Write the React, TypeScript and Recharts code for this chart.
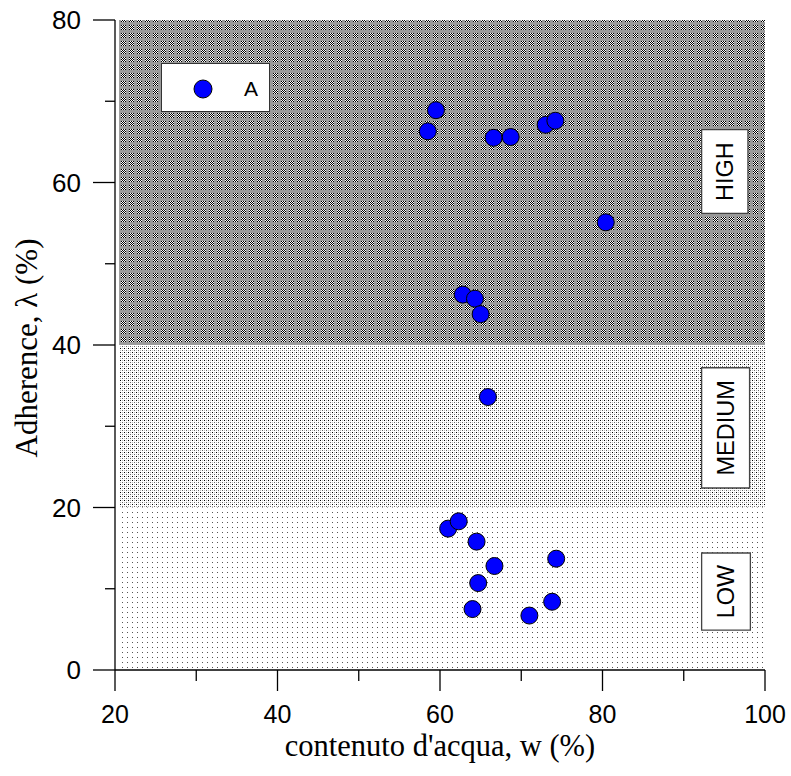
import React from 'react';
import { ScatterChart, Scatter, XAxis, YAxis, ReferenceArea } from 'recharts';

// water content w (%) vs adherence λ (%)
const waterContent = [58.5, 59.5, 66.6, 68.7, 73.0, 74.2, 80.4, 62.8, 64.3, 65.0, 65.9, 61.0, 62.3, 64.5, 66.7, 64.7, 64.0, 71.0, 74.3, 73.8];
const adherence = [66.3, 68.9, 65.5, 65.6, 67.1, 67.6, 55.1, 46.2, 45.7, 43.8, 33.6, 17.4, 18.3, 15.8, 12.8, 10.7, 7.5, 6.7, 13.7, 8.4];

const xTicks = [20, 30, 40, 50, 60, 70, 80, 90, 100];
const yTicks = [0, 10, 20, 30, 40, 50, 60, 70, 80];

const points = waterContent.map((w, i) => ({ w, lambda: adherence[i] }));

const TICK_FONT = "'Liberation Sans', Arial, sans-serif";
const TITLE_FONT = "'Liberation Serif', 'Times New Roman', serif";

// checker blob used by the dark pattern
const checker = (ox: number, oy: number, n: number) => {
  const cells = [];
  for (let i = 0; i < n; i++) {
    for (let j = 0; j < n; j++) {
      cells.push(
        <rect key={`${ox}-${oy}-${i}-${j}`} x={ox + i} y={oy + j} width={1} height={1} fill={(i + j) % 2 === 0 ? '#000' : '#fff'} />
      );
    }
  }
  return cells;
};

const XTick = (props: any) => {
  const { x, y, payload } = props;
  const major = payload.value % 20 === 0;
  return (
    <g>
      <line x1={x} x2={x} y1={y} y2={y + (major ? 21 : 11)} stroke="#000" strokeWidth={1.3} />
      {major && (
        <text x={x} y={y + 53} textAnchor="middle" fontFamily={TICK_FONT} fontSize={25} fill="#000">
          {payload.value}
        </text>
      )}
    </g>
  );
};

const YTick = (props: any) => {
  const { x, y, payload } = props;
  const major = payload.value % 20 === 0;
  return (
    <g>
      <line x1={x - (major ? 22 : 10)} x2={x} y1={y} y2={y} stroke="#000" strokeWidth={1.3} />
      {major && (
        <text x={x - 34} y={y + 9.3} textAnchor="end" fontFamily={TICK_FONT} fontSize={26} fill="#000">
          {payload.value}
        </text>
      )}
    </g>
  );
};

const ZoneLabel = (text: string) => (props: any) => {
  const { x, y, width, height } = props.viewBox;
  const cx = x + width / 2;
  const cy = y + height / 2;
  return (
    <text
      x={cx}
      y={cy}
      transform={`rotate(-90 ${cx} ${cy})`}
      textAnchor="middle"
      dominantBaseline="central"
      fontFamily={TICK_FONT}
      fontSize={23.5}
      fill="#000"
    >
      {text}
    </text>
  );
};

const Dot = (props: any) => (
  <circle cx={props.cx} cy={props.cy} r={8.5} fill="#0000ff" stroke="#000" strokeWidth={1} />
);

export default function App() {
  return (
    <div style={{ position: 'absolute', left: 0, top: 0, width: 791, height: 776, background: '#fff' }}>
      <ScatterChart width={791} height={776} margin={{ top: 20, right: 26, bottom: 0, left: 0 }}>
        <defs>
          <pattern id="high" width={8} height={8} patternUnits="userSpaceOnUse">
            <rect width={8} height={8} fill="#9a9a9a" />
            {checker(1, 1, 5)}
          </pattern>
          <pattern id="medium" width={4} height={4} patternUnits="userSpaceOnUse">
            <rect width={4} height={4} fill="#fff" />
            <rect x={0} y={0} width={1} height={1} fill="#000" />
            <rect x={2} y={2} width={1} height={1} fill="#666" />
            <rect x={2} y={0} width={1} height={1} fill="#bbb" />
            <rect x={0} y={2} width={1} height={1} fill="#bbb" />
          </pattern>
          <pattern id="low" width={5} height={5} patternUnits="userSpaceOnUse">
            <rect width={5} height={5} fill="#fff" />
            <rect x={2} y={2} width={1} height={1} fill="#555" />
          </pattern>
        </defs>
        <XAxis
          type="number"
          dataKey="w"
          domain={[20, 100]}
          ticks={xTicks}
          interval={0}
          height={106}
          tickSize={0}
          tickMargin={0}
          tickLine={false}
          tick={<XTick />}
          axisLine={{ stroke: '#000', strokeWidth: 1.3 }}
          label={{
            content: (p: any) => (
              <text
                x={p.viewBox.x + p.viewBox.width / 2}
                y={p.viewBox.y + 86}
                textAnchor="middle"
                fontFamily={TITLE_FONT}
                fontSize={30.5}
                fill="#000"
              >
                contenuto d'acqua, w (%)
              </text>
            ),
          }}
        />
        <YAxis
          type="number"
          dataKey="lambda"
          domain={[0, 80]}
          ticks={yTicks}
          interval={0}
          width={115}
          tickSize={0}
          tickMargin={0}
          tickLine={false}
          tick={<YTick />}
          axisLine={{ stroke: '#000', strokeWidth: 1.3 }}
          label={{
            content: (p: any) => {
              const cx = p.viewBox.x + 37;
              const cy = p.viewBox.y + p.viewBox.height / 2 + 3;
              return (
                <text
                  x={cx}
                  y={cy}
                  transform={`rotate(-90 ${cx} ${cy})`}
                  textAnchor="middle"
                  fontFamily={TITLE_FONT}
                  fontSize={31}
                  fill="#000"
                >
                  Adherence, λ (%)
                </text>
              );
            },
          }}
        />
        <ReferenceArea x1={20.5} x2={100} y1={40} y2={80} fill="url(#high)" fillOpacity={1} stroke="none" />
        <ReferenceArea x1={20.5} x2={100} y1={20} y2={40} fill="url(#medium)" fillOpacity={1} stroke="none" />
        <ReferenceArea x1={20.5} x2={100} y1={0} y2={20} fill="url(#low)" fillOpacity={1} stroke="none" />
        <ReferenceArea x1={92.2} x2={97.9} y1={56.2} y2={66.5} fill="#fff" fillOpacity={1} stroke="#444" strokeWidth={1.3} label={ZoneLabel('HIGH')} />
        <ReferenceArea x1={92.2} x2={98.1} y1={22.4} y2={37.2} fill="#fff" fillOpacity={1} stroke="#444" strokeWidth={1.3} label={ZoneLabel('MEDIUM')} />
        <ReferenceArea x1={92.2} x2={98.2} y1={4.9} y2={14.4} fill="#fff" fillOpacity={1} stroke="#444" strokeWidth={1.3} label={ZoneLabel('LOW')} />
        <Scatter name="A" data={points} shape={<Dot />} isAnimationActive={false} />
      </ScatterChart>
      <div
        style={{
          position: 'absolute',
          left: 161,
          top: 63,
          width: 107,
          height: 47,
          background: '#fff',
          border: '1.3px solid #333',
          boxSizing: 'content-box',
        }}
      >
        <svg width={107} height={47} style={{ position: 'absolute', left: 0, top: 0 }}>
          <circle cx={41} cy={25} r={9} fill="#0000ff" stroke="#000" strokeWidth={1} />
          <text x={82} y={32} fontFamily={TICK_FONT} fontSize={21} fill="#000">A</text>
        </svg>
      </div>
    </div>
  );
}
